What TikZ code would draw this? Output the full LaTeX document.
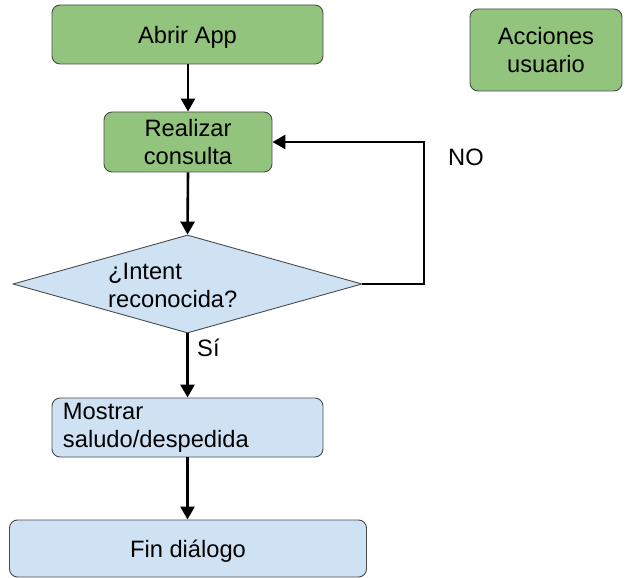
\documentclass[tikz,border=0pt]{standalone}
\usepackage{fontspec}
\setmainfont{Liberation Sans}
\usetikzlibrary{shapes.geometric,arrows.meta}
\definecolor{boxgreen}{HTML}{93C47D}
\definecolor{boxblue}{HTML}{CFE2F3}
\definecolor{edge}{HTML}{4A4A4A}
\tikzset{
  x=1pt, y=-1pt,
  every node/.style={font=\fontsize{23.7}{28}\selectfont},
  stepbox/.style={draw=edge, line width=0.9pt, rounded corners=8pt, inner sep=0pt, align=center, text depth=0pt},
  greenbox/.style={stepbox, fill=boxgreen},
  bluebox/.style={stepbox, fill=boxblue},
  decision/.style={draw=edge, line width=0.9pt, fill=boxblue, shape=diamond, inner sep=0pt},
  flow/.style={line width=2.6pt, -{Triangle[length=13pt,width=14pt]}},
  plain/.style={inner sep=0pt}
}
\begin{document}
\begin{tikzpicture}
\useasboundingbox (0,0) rectangle (625,578);
% process steps
\node[greenbox, minimum width=271pt, minimum height=59pt] (abrir) at (187.5,34.5) {Abrir App};
\node[greenbox, minimum width=168pt, minimum height=60pt] (realizar) at (188,142) {Realizar\\consulta};
\node[greenbox, minimum width=152pt, minimum height=82pt] (acciones) at (546,50) {Acciones\\usuario};
% decision
\node[decision, minimum width=349pt, minimum height=98pt] (q) at (187.5,284) {};
\node[anchor=base west, align=left, inner sep=0pt] (qtext) at (108,307) {¿Intent\\reconocida?};
% output steps
\node[bluebox, minimum width=271pt, minimum height=59pt, text width=249pt, align=left,
      text height=17pt, text depth=34pt] (mostrar) at (187.5,427.5) {Mostrar\\saludo/despedida};
\node[bluebox, minimum width=357pt, minimum height=57pt] (fin) at (188,548.5) {Fin diálogo};
% connectors
\draw[flow] (abrir.south -| realizar.north) -- (realizar.north);
\draw[flow] (realizar.south) -- (q.north);
\draw[flow] (q.south) -- (q.south |- mostrar.north);
\draw[flow] (q.south |- mostrar.south) -- (q.south |- fin.north);
\coordinate (loopbr) at (424,284);
\coordinate (looptr) at (424,142);
\draw[flow] (q.east) -- (loopbr) -- (looptr) -- (realizar.east);
% branch labels
\node[plain, anchor=base west] (no) at (448,166) {NO};
\node[plain, anchor=base west] (si) at (197,356) {Sí};
\end{tikzpicture}
\end{document}
